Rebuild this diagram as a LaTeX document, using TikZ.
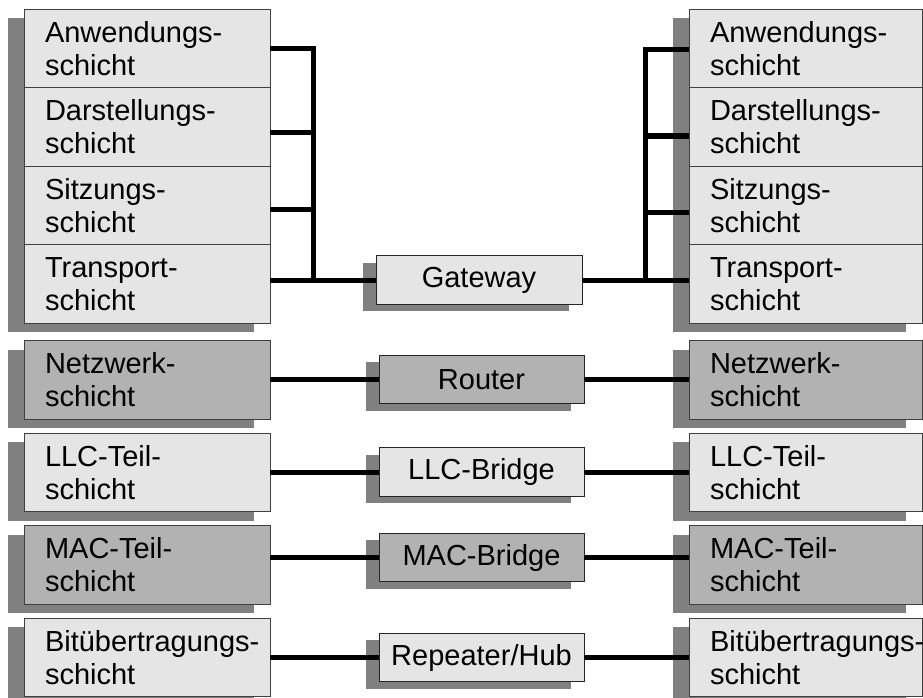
\documentclass[tikz,border=0pt]{standalone}
\usepackage{fontspec}
\setmainfont{Liberation Sans}
\usetikzlibrary{shadows}
\hyphenpenalty=10000
\exhyphenpenalty=10000

\tikzset{
  layer/.style={draw=black!75, line width=0.8pt, fill=black!10,
    minimum width=246pt, minimum height=78.5pt, text width=204pt,
    inner xsep=21pt, align=left, font=\fontsize{29}{33}\selectfont,
    drop shadow={shadow xshift=-16pt, shadow yshift=-9pt, fill=black!50, opacity=1}},
  rlayer/.style={layer, minimum width=233pt, text width=191pt},
  relay/.style={draw=black!85, line width=0.8pt, fill=black!10,
    minimum width=205pt, minimum height=48.5pt, font=\fontsize{29}{33}\selectfont,
    drop shadow={shadow xshift=-13pt, shadow yshift=-7pt, fill=black!50, opacity=1}},
  dark/.style={fill=black!30},
  link/.style={line width=5pt}
}

\begin{document}
\begin{tikzpicture}[x=1pt,y=-1pt]
\useasboundingbox (0,0) rectangle (923,698);
%
% left end system
\node[layer] (anw-l) at (147,48.5) {Anwendungs-\\schicht};
\node[layer] (dar-l) at (147,127) {Darstellungs-\\schicht};
\node[layer] (sit-l) at (147,205.5) {Sitzungs-\\schicht};
\node[layer] (tra-l) at (147,284) {Transport-\\schicht};
\node[layer,dark] (net-l) at (147,380) {Netzwerk-\\schicht};
\node[layer] (llc-l) at (147,472.5) {LLC-Teil-\\schicht};
\node[layer,dark] (mac-l) at (147,565) {MAC-Teil-\\schicht};
\node[layer] (bit-l) at (147,657.5) {\mbox{Bitübertragungs-}\\schicht};
%
% right end system
\node[rlayer] (anw-r) at (805.5,48.5) {Anwendungs-\\schicht};
\node[rlayer] (dar-r) at (805.5,127) {Darstellungs-\\schicht};
\node[rlayer] (sit-r) at (805.5,205.5) {Sitzungs-\\schicht};
\node[rlayer] (tra-r) at (805.5,284) {Transport-\\schicht};
\node[rlayer,dark] (net-r) at (805.5,380) {Netzwerk-\\schicht};
\node[rlayer] (llc-r) at (805.5,472.5) {LLC-Teil-\\schicht};
\node[rlayer,dark] (mac-r) at (805.5,565) {MAC-Teil-\\schicht};
\node[rlayer] (bit-r) at (805.5,657.5) {\mbox{Bitübertragungs-}\\schicht};
%
% coupling devices
\node[relay, minimum width=206pt] (gw) at (479,280) {Gateway};
\node[relay,dark] (router) at (481.5,379.5) {Router};
\node[relay] (llcb) at (481.5,472) {LLC-Bridge};
\node[relay,dark] (macb) at (481.5,557.5) {MAC-Bridge};
\node[relay] (rep) at (481.5,657.5) {Repeater/Hub};
%
\coordinate (bus-l) at (313,0);
\coordinate (bus-r) at (645,0);
%
\draw[link] ([yshift=-0.5pt]anw-l.east) -- ([yshift=-0.5pt]anw-l.east -| bus-l) -- (bus-l |- gw.west);
\draw[link] ([yshift=-6pt]dar-l.east) -- ([yshift=-6pt]dar-l.east -| bus-l);
\draw[link] ([yshift=-3.5pt]sit-l.east) -- ([yshift=-3.5pt]sit-l.east -| bus-l);
\draw[link] (gw.west -| tra-l.east) -- (gw.west);
\draw[link] ([yshift=-1.5pt]anw-r.west) -- ([yshift=-1.5pt]anw-r.west -| bus-r) -- (bus-r |- gw.east);
\draw[link] ([yshift=-9pt]dar-r.west) -- ([yshift=-9pt]dar-r.west -| bus-r);
\draw[link] ([yshift=-6.5pt]sit-r.west) -- ([yshift=-6.5pt]sit-r.west -| bus-r);
\draw[link] (gw.east) -- (gw.east -| tra-r.west);
%
\draw[link] (router.west -| net-l.east) -- (router.west);
\draw[link] (router.east) -- (router.east -| net-r.west);
\draw[link] (llcb.west -| llc-l.east) -- (llcb.west);
\draw[link] (llcb.east) -- (llcb.east -| llc-r.west);
\draw[link] (macb.west -| mac-l.east) -- (macb.west);
\draw[link] (macb.east) -- (macb.east -| mac-r.west);
\draw[link] (rep.west -| bit-l.east) -- (rep.west);
\draw[link] (rep.east) -- (rep.east -| bit-r.west);
%
\end{tikzpicture}
\end{document}
